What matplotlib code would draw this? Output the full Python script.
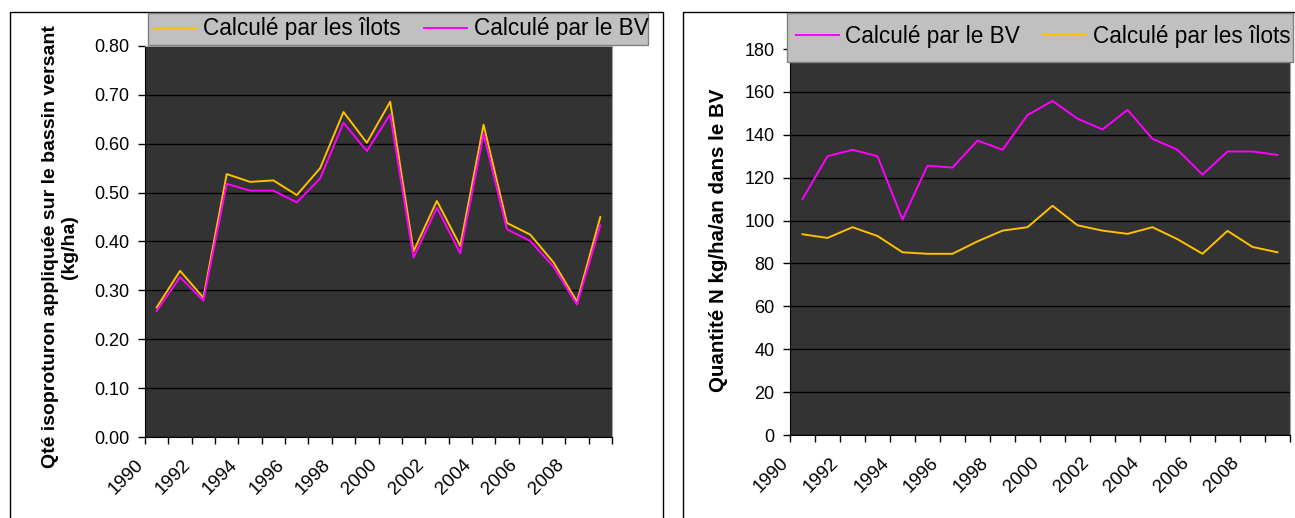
import numpy as np
import matplotlib.pyplot as plt
from matplotlib.patches import Rectangle
from matplotlib.transforms import ScaledTranslation

plt.rcParams['font.family'] = ['Liberation Sans', 'DejaVu Sans']

annees = list(range(1990, 2010))

# graphique de gauche : isoproturon (kg/ha)
iso_ilots = [0.265, 0.340, 0.285, 0.538, 0.522, 0.525, 0.495, 0.550, 0.665, 0.602,
             0.686, 0.380, 0.483, 0.391, 0.639, 0.438, 0.414, 0.357, 0.277, 0.450]
iso_bv = [0.258, 0.327, 0.279, 0.518, 0.504, 0.504, 0.480, 0.529, 0.643, 0.585,
          0.660, 0.367, 0.469, 0.376, 0.620, 0.425, 0.401, 0.348, 0.271, 0.433]

# graphique de droite : azote (kg/ha/an)
n_bv = [110, 130, 133, 130, 100.5, 125.6, 124.7, 137.3, 133, 149.2,
        155.8, 147.5, 142.5, 151.6, 138.1, 133, 121.4, 132.2, 132.2, 130.6]
n_ilots = [93.6, 91.9, 96.9, 92.8, 85.2, 84.5, 84.5, 90.3, 95.3, 96.9,
           106.9, 97.8, 95.3, 93.8, 96.9, 91.3, 84.5, 95.2, 87.7, 85.2]

JAUNE = '#ffc000'
MAGENTA = '#ff00ff'
FOND = '#333333'

W, H = 1295, 518
fig = plt.figure(figsize=(W / 100, H / 100), dpi=100)


def px(x0, y0, x1, y1):
    # rectangle en pixels (origine en haut a gauche) -> coordonnees figure
    return [x0 / W, 1 - y1 / H, (x1 - x0) / W, (y1 - y0) / H]


def cadre(x0, y0, x1, y1, fc='none', ec='black', lw=1.0, z=0):
    r = Rectangle((x0 / W, 1 - y1 / H), (x1 - x0) / W, (y1 - y0) / H,
                  transform=fig.transFigure, facecolor=fc, edgecolor=ec,
                  linewidth=lw, zorder=z)
    fig.add_artist(r)


def preparer_axe(ax, ymax, pas, fmt):
    n = len(annees)
    x = np.arange(n)
    ax.set_facecolor(FOND)
    ax.set_xlim(-0.5, n - 0.5)
    ax.set_ylim(0, ymax)
    valeurs = np.arange(0, ymax + pas / 2, pas)
    ax.set_yticks(valeurs)
    ax.set_yticklabels([fmt.format(v) for v in valeurs])
    ax.yaxis.grid(True, color='black', linewidth=1)
    ax.set_axisbelow(True)
    bords = np.arange(-0.5, n, 1)
    ax.set_xticks(bords)
    etiq = [str(annees[i]) if i < n and i % 2 == 0 else '' for i in range(len(bords))]
    ax.set_xticklabels(etiq, rotation=45, ha='right', va='top', rotation_mode='anchor')
    ax.tick_params(axis='both', direction='out', length=5, width=1, color='black')
    ax.tick_params(axis='y', labelsize=13, pad=6)
    ax.tick_params(axis='x', labelsize=13.5, pad=9)
    decalage = ScaledTranslation(-7 / 72, 0, fig.dpi_scale_trans)
    for lab in ax.get_xticklabels():
        lab.set_transform(lab.get_transform() + decalage)
    for s in ['top', 'right']:
        ax.spines[s].set_color('#a0a0a0')
    for s in ['left', 'bottom']:
        ax.spines[s].set_color('black')
    return x


# cadres des deux graphiques
cadre(10, 12, 663, 530)
cadre(683, 12, 1310, 530)

# --- gauche
ax1 = fig.add_axes(px(145, 46, 612, 437))
x = preparer_axe(ax1, 0.8, 0.1, '{:.2f}')
l1, = ax1.plot(x, iso_ilots, color=JAUNE, lw=1.4, label='Calculé par les îlots')
l2, = ax1.plot(x, iso_bv, color=MAGENTA, lw=1.4, label='Calculé par le BV')
cadre(148, 13, 648, 45, fc='#c0c0c0', ec='#808080', lw=1, z=5)
leg1 = fig.legend(handles=[l1, l2], loc='center', ncol=2, frameon=False,
                  bbox_to_anchor=(401 / W, 1 - 29 / H), fontsize=16.3,
                  handlelength=1.9, handletextpad=0.3, columnspacing=1.0)
leg1.set_zorder(6)
fig.text(60 / W, 1 - 247 / H,
         'Qté isoproturon appliquée sur le bassin versant\n(kg/ha)',
         rotation=90, ha='center', va='center', fontsize=14,
         fontweight='bold', multialignment='center', linespacing=1.15)

# --- droite
ax2 = fig.add_axes(px(790, 49, 1290, 435))
x = preparer_axe(ax2, 180, 20, '{:.0f}')
r1, = ax2.plot(x, n_bv, color=MAGENTA, lw=1.4, label='Calculé par le BV')
r2, = ax2.plot(x, n_ilots, color=JAUNE, lw=1.4, label='Calculé par les îlots')
cadre(787, 13, 1293, 62, fc='#c0c0c0', ec='#808080', lw=1, z=5)
leg2 = fig.legend(handles=[r1, r2], loc='center', ncol=2, frameon=False,
                  bbox_to_anchor=(1043 / W, 1 - 36 / H), fontsize=16.3,
                  handlelength=1.9, handletextpad=0.3, columnspacing=1.0)
leg2.set_zorder(6)
fig.text(718 / W, 1 - 240 / H, 'Quantité N kg/ha/an dans le BV',
         rotation=90, ha='center', va='center', fontsize=14.8, fontweight='bold')

fig.savefig('out.png', dpi=100)
